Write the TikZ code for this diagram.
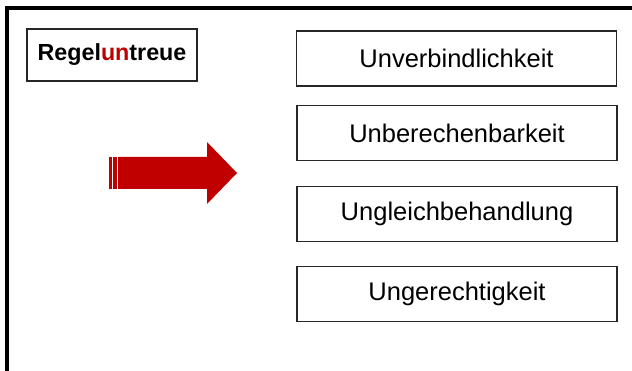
\documentclass[tikz,border=0pt]{standalone}
\usepackage{fontspec}
\setmainfont{Liberation Sans}
\definecolor{arrowred}{HTML}{C00000}
\begin{document}
\begin{tikzpicture}[x=1pt,y=-1pt,
  itembox/.style={draw=black!85,line width=1.2pt,fill=white,minimum width=320pt,minimum height=55pt,inner sep=0pt,font=\fontsize{25.5}{28}\selectfont},
  titlebox/.style={draw=black!85,line width=1.2pt,fill=white,minimum width=170pt,minimum height=52pt,inner sep=0pt,font=\bfseries\fontsize{23.3}{26}\selectfont}]
\useasboundingbox (0,0) rectangle (632,371);
% outer frame
\draw[line width=4pt,line cap=butt] (640,8) -- (7,8) -- (7,380);
% title
\node[titlebox] (title) at (112,55) {Regel\textcolor{arrowred}{un}treue};
% items
\node[itembox] (b1) at (456.5,58.5) {Unverbindlichkeit};
\node[itembox] (b2) at (457,133) {Unberechenbarkeit};
\node[itembox] (b3) at (457,214) {Ungleichbehandlung};
\node[itembox] (b4) at (457,294) {Ungerechtigkeit};
% arrow
\fill[arrowred] (109,157) rectangle (111.5,189);
\fill[arrowred] (113,157) rectangle (116.5,189);
\fill[arrowred] (118,157) -- (207,157) -- (207,142) -- (237,173) -- (207,204) -- (207,189) -- (118,189) -- cycle;
\end{tikzpicture}
\end{document}
